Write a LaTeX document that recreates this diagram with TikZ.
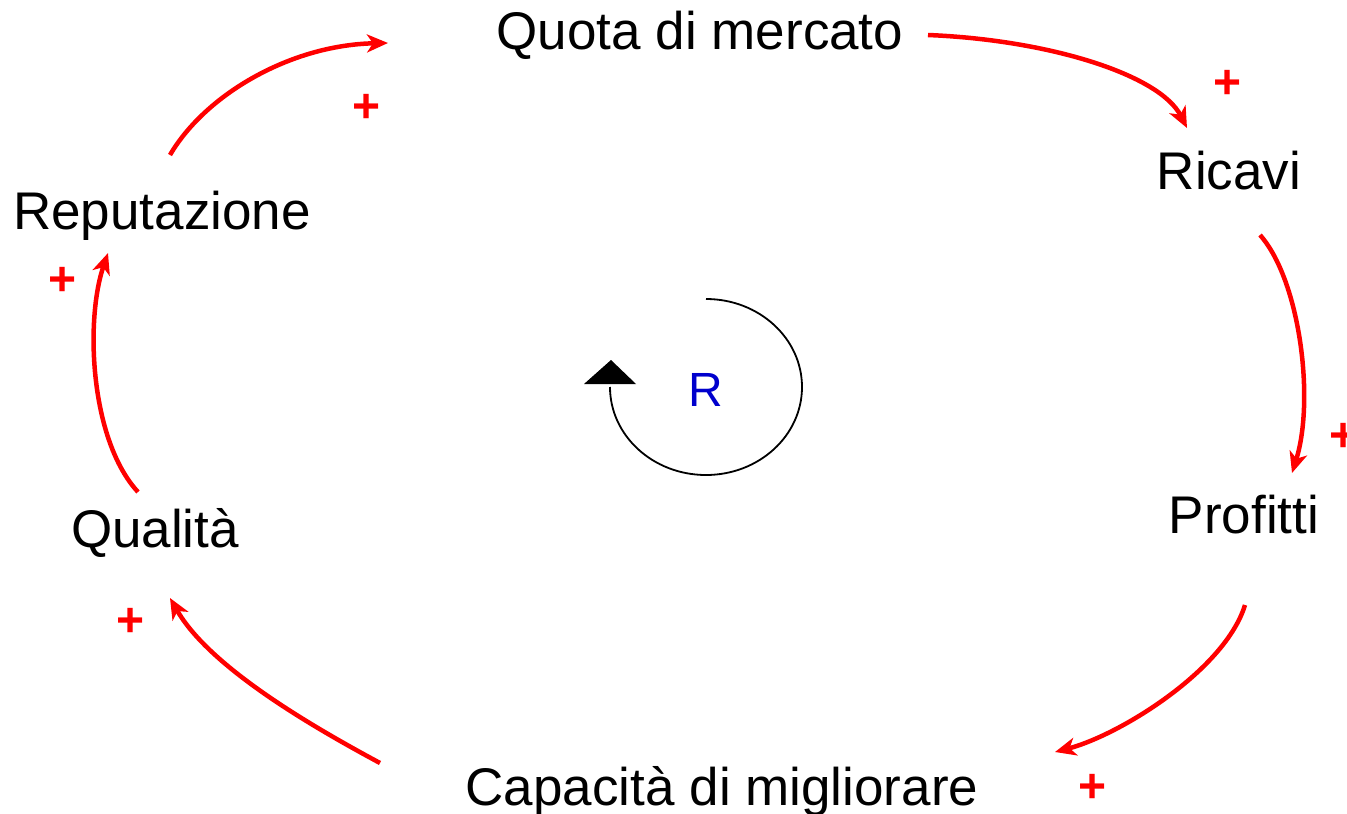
\documentclass[tikz,border=0pt]{standalone}
\usepackage{fontspec}
\setmainfont{Liberation Sans}
\usetikzlibrary{arrows.meta}
\definecolor{linkred}{RGB}{255,0,0}
\definecolor{loopblue}{RGB}{0,0,205}
\tikzset{
  var/.style={anchor=base, inner sep=0pt, font=\fontsize{53}{60}\selectfont},
  sign/.style={inner sep=0pt, text=linkred, font=\bfseries\fontsize{48}{52}\selectfont},
  link/.style={draw=linkred, line width=4.5pt, -{Stealth[length=21pt,width=18pt,inset=6pt]}},
}
\begin{document}
\begin{tikzpicture}[x=1pt,y=-1pt]
\useasboundingbox (0,0) rectangle (1347,814);
\node[var] (q) at (700,49) {Quota di mercato};
\node[var] (ric) at (1229,189) {Ricavi};
\node[var] (prof) at (1244,533) {Profitti};
\node[var] (cap) at (722,805) {Capacità di migliorare};
\node[var] (qual) at (155,547) {Qualità};
\node[var] (rep) at (162,229) {Reputazione};

\draw[link] ([shift={(8,-74)}]rep.base) .. controls (205,95) and (290,45) .. ([shift={(-312,-6)}]q.base);
\draw[link] ([shift={(228,-14)}]q.base) .. controls (1050,40) and (1160,75) .. ([shift={(-42,-61)}]ric.base);
\draw[link] ([shift={(31,46)}]ric.base) .. controls (1300,280) and (1315,400) .. ([shift={(48,-60)}]prof.base);
\draw[link] ([shift={(1,72)}]prof.base) .. controls (1225,670) and (1120,735) .. ([shift={(333,-53)}]cap.base);
\draw[link] ([shift={(-342,-42)}]cap.base) .. controls (315,728) and (210,668) .. ([shift={(15,51)}]qual.base);
\draw[link] ([shift={(-17,-55)}]qual.base) .. controls (90,440) and (85,320) .. ([shift={(-54,24)}]rep.base);

\node[sign] (s1) at (367,108) {+};
\node[sign] (s2) at (1228,84) {+};
\node[sign] (s3) at (1344,437) {+};
\node[sign] (s4) at (1093,788) {+};
\node[sign] (s5) at (131,622) {+};
\node[sign] (s6) at (63,281) {+};

\node[inner sep=0pt, text=loopblue, font=\fontsize{48}{52}\selectfont] (r) at (706,390) {R};
\draw[line width=1.8pt] (706,299) arc[start angle=-90, end angle=180, x radius=96, y radius=88];
\fill (584,384) -- (636,384) -- (611,360) -- cycle;
\end{tikzpicture}
\end{document}
